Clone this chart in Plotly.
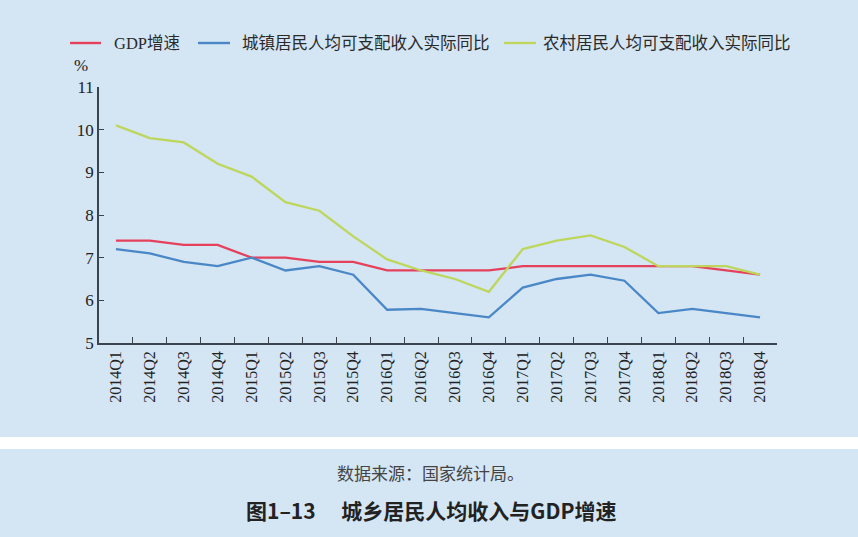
import plotly.graph_objects as go

quarters = ["2014Q1","2014Q2","2014Q3","2014Q4","2015Q1","2015Q2","2015Q3","2015Q4",
            "2016Q1","2016Q2","2016Q3","2016Q4","2017Q1","2017Q2","2017Q3","2017Q4",
            "2018Q1","2018Q2","2018Q3","2018Q4"]
gdp = [7.4,7.4,7.3,7.3,7.0,7.0,6.9,6.9,6.7,6.7,6.7,6.7,6.8,6.8,6.8,6.8,6.8,6.8,6.7,6.6]
urban = [7.2,7.1,6.9,6.8,7.0,6.7,6.8,6.6,5.78,5.8,5.7,5.6,6.3,6.5,6.6,6.46,5.7,5.8,5.7,5.6]
rural = [10.1,9.8,9.7,9.2,8.9,8.3,8.1,7.5,6.96,6.7,6.5,6.2,7.2,7.4,7.52,7.25,6.8,6.8,6.8,6.6]

names = ["GDP增速", "城镇居民人均可支配收入实际同比", "农村居民人均可支配收入实际同比"]
colors = ["#e5415c", "#4a87c7", "#bdd65b"]

BG = "#d4e5f4"
FONT = "Liberation Serif, Noto Sans CJK SC, serif"
AXC = "#3a4550"

# plot area in pixels: x 99..777, y 87..343
L, R, T, B = 99, 777, 87, 343
W, H = R - L, B - T
def px(x):
    return (x - L) / W
def py(y):
    return (B - y) / H

fig = go.Figure()
for name, vals, c in zip(names, [gdp, urban, rural], colors):
    fig.add_trace(go.Scatter(x=quarters, y=vals, mode="lines", name=name,
                             line=dict(color=c, width=2.3), showlegend=False))

shapes = [
    dict(type="rect", xref="paper", yref="paper", x0=-0.2, x1=1.2,
         y0=py(449), y1=py(437), fillcolor="white", line=dict(width=0), layer="below"),
]
annotations = [
    dict(text="%", xref="paper", yref="paper", x=px(81), y=py(65), showarrow=False,
         xanchor="center", yanchor="middle",
         font=dict(family=FONT, size=17, color="#222222")),
    dict(text="数据来源：国家统计局。", xref="paper", yref="paper",
         x=px(430), y=py(472), showarrow=False, xanchor="center", yanchor="middle",
         font=dict(family="Noto Sans CJK SC", size=17, color="#444444")),
    dict(text="<b>图1–13　 城乡居民人均收入与GDP增速</b>", xref="paper", yref="paper",
         x=px(431), y=py(510), showarrow=False, xanchor="center", yanchor="middle",
         font=dict(family="Noto Sans CJK SC", size=21, color="#222222")),
]

# manual legend
leg_lines = [(70, 101), (198, 230), (504, 536)]
leg_text_x = [112, 240, 541]
for (x0, x1), tx, name, c in zip(leg_lines, leg_text_x, names, colors):
    shapes.append(dict(type="line", xref="paper", yref="paper", x0=px(x0), x1=px(x1),
                       y0=py(43), y1=py(43), line=dict(color=c, width=2.4)))
    annotations.append(dict(text=name, xref="paper", yref="paper", x=px(tx), y=py(43),
                            xanchor="left", yanchor="middle", showarrow=False,
                            font=dict(family=FONT, size=16.5, color="#2a2a2a")))

fig.update_layout(
    width=858, height=537,
    margin=dict(l=L, r=858 - R, t=T, b=537 - B),
    paper_bgcolor=BG, plot_bgcolor="rgba(0,0,0,0)",
    font=dict(family=FONT, size=16, color="#222222"),
    showlegend=False,
    xaxis=dict(type="category", showgrid=False, zeroline=False, automargin=False,
               showline=True, linecolor=AXC, linewidth=1.5,
               ticks="inside", tickson="boundaries", ticklen=6, tickcolor=AXC,
               tickwidth=1.2, tickangle=-90,
               tickfont=dict(family=FONT, size=16, color="#222222"),
               range=[-0.5, 19.5]),
    yaxis=dict(range=[5, 11], dtick=1, showgrid=False, zeroline=False, automargin=False,
               showline=True, linecolor=AXC, linewidth=1.5,
               ticks="inside", ticklen=5, tickcolor=AXC, tickwidth=1.2,
               tickfont=dict(family=FONT, size=17, color="#222222")),
    shapes=shapes,
    annotations=annotations,
)

fig.write_html("out.html", config={"displayModeBar": False},
               post_script="document.body.style.margin='0';document.body.style.padding='0';")
